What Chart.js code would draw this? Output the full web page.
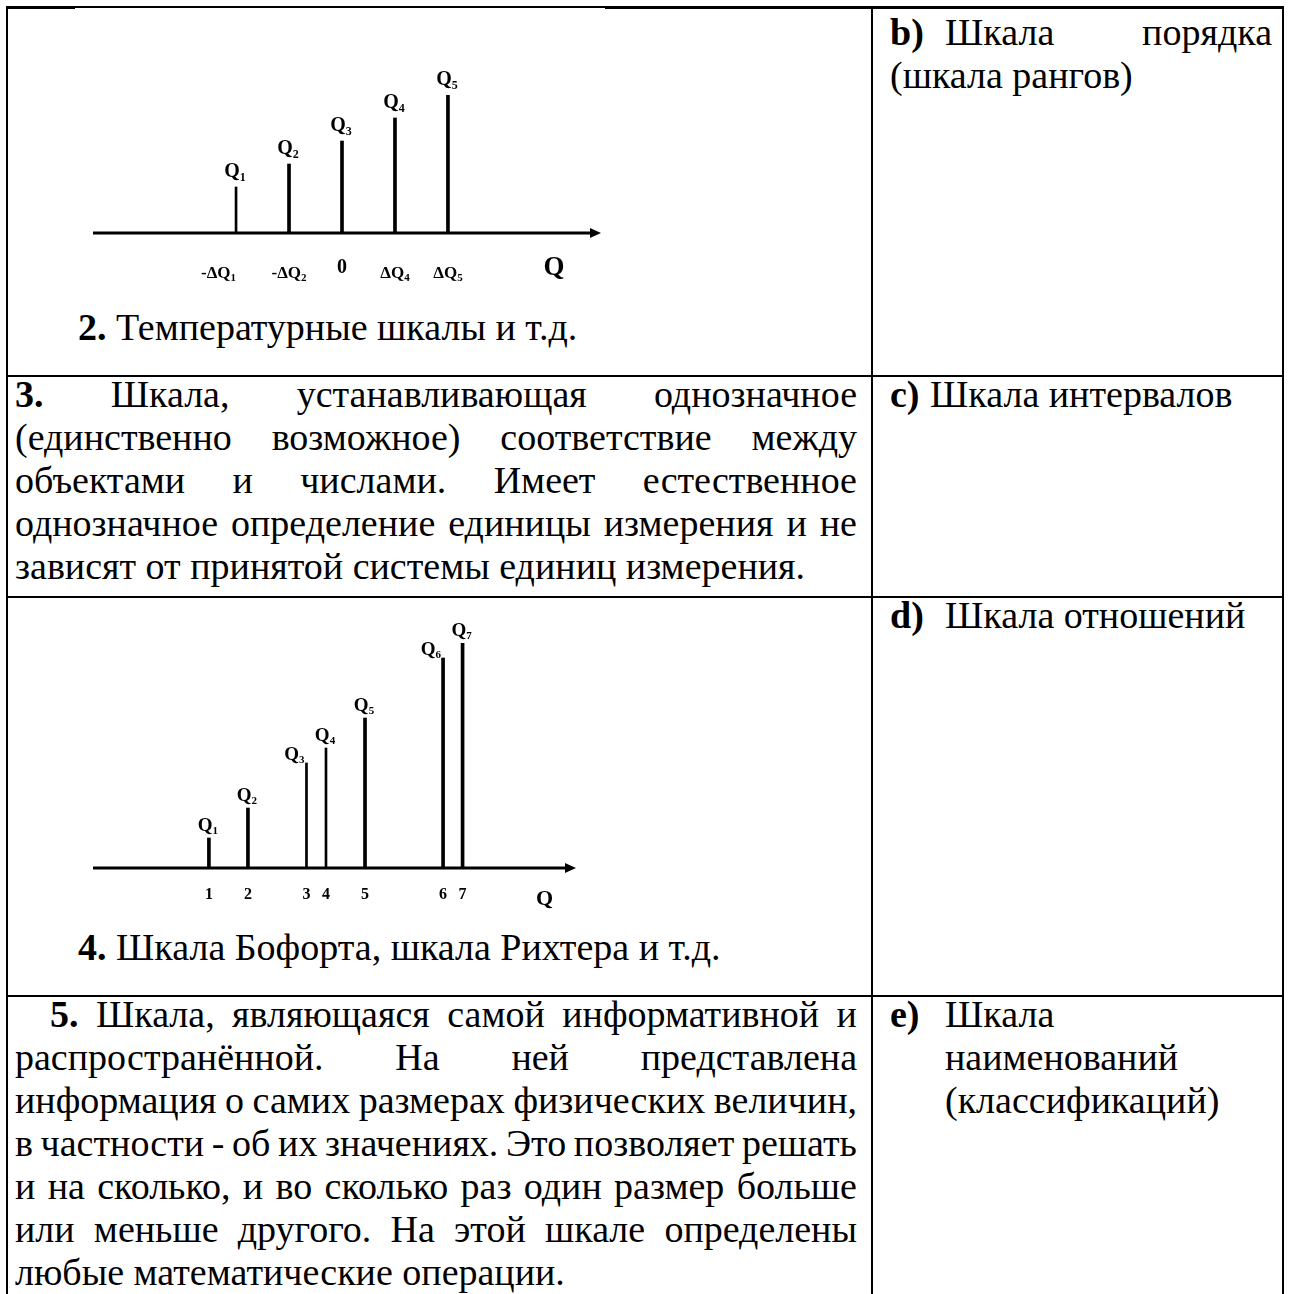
<!DOCTYPE html>
<html lang="ru">
<head>
<meta charset="UTF-8">
<title>Шкалы измерений</title>
<script src="https://cdn.jsdelivr.net/npm/chart.js@4.4.1/dist/chart.umd.min.js"></script>
<style>
    html, body { margin: 0; padding: 0; background: #fff; }
    body {
        width: 1291px; height: 1294px; position: relative; overflow: hidden;
        font-family: "Times New Roman", "Liberation Serif", serif;
        font-size: 38px; color: #000;
    }
    .rule { position: absolute; background: #000; }
    .ln { position: absolute; white-space: pre; line-height: 43px; }
    .j { display: flex; justify-content: space-between; white-space: nowrap; }
    canvas { position: absolute; }
</style>
</head>
<body>

<!-- рамка таблицы -->
<div class="rule" style="left:6px; top:6px; width:1278px; height:2px;"></div>
<div class="rule" style="left:6px; top:6px; width:69px; height:3px;"></div>
<div class="rule" style="left:605px; top:6px; width:679px; height:3px;"></div>
<div class="rule" style="left:6px; top:6px; width:2px; height:1288px;"></div>
<div class="rule" style="left:871px; top:6px; width:2px; height:1288px;"></div>
<div class="rule" style="left:1282px; top:6px; width:2px; height:1288px;"></div>
<div class="rule" style="left:6px; top:375px; width:1278px; height:2px;"></div>
<div class="rule" style="left:6px; top:596px; width:1278px; height:2px;"></div>
<div class="rule" style="left:6px; top:995px; width:1278px; height:2px;"></div>

<!-- строка 1 -->
<canvas id="chart1" width="540" height="240" style="left:80px; top:60px;"></canvas>
<div class="ln" style="left:78px; top:306px;"><b>2.</b> Температурные шкалы и т.д.</div>
<div class="ln" style="left:890px; top:11px;"><b>b)</b></div>
<div class="ln" style="left:945px; top:11px;">Шкала</div>
<div class="ln" style="left:1100px; top:11px; width:172px; text-align:right;">порядка</div>
<div class="ln" style="left:890px; top:54px;">(шкала рангов)</div>

<!-- строка 2 -->
<div class="ln j" style="left:15px; top:373px; width:842px;"><b>3.</b> Шкала, устанавливающая однозначное</div>
<div class="ln j" style="left:15px; top:416px; width:842px;">(единственно возможное) соответствие между</div>
<div class="ln j" style="left:15px; top:459px; width:842px;">объектами и числами. Имеет естественное</div>
<div class="ln j" style="left:15px; top:502px; width:842px;">однозначное определение единицы измерения и не</div>
<div class="ln" style="left:15px; top:545px;">зависят от принятой системы единиц измерения.</div>
<div class="ln" style="left:890px; top:373px;"><b>c)</b></div>
<div class="ln" style="left:930px; top:373px;">Шкала интервалов</div>

<!-- строка 3 -->
<canvas id="chart2" width="540" height="320" style="left:80px; top:600px;"></canvas>
<div class="ln" style="left:78px; top:926px;"><b>4.</b> Шкала Бофорта, шкала Рихтера и т.д.</div>
<div class="ln" style="left:890px; top:594px;"><b>d)</b></div>
<div class="ln" style="left:945px; top:594px;">Шкала отношений</div>

<!-- строка 4 -->
<div class="ln j" style="left:50px; top:993px; width:807px;"><b>5.</b> Шкала, являющаяся самой информативной и</div>
<div class="ln j" style="left:15px; top:1036px; width:842px;">распространённой. На ней представлена</div>
<div class="ln j" style="left:15px; top:1079px; width:842px;">информация о самих размерах физических величин,</div>
<div class="ln j" style="left:15px; top:1122px; width:842px;">в частности - об их значениях. Это позволяет решать</div>
<div class="ln j" style="left:15px; top:1165px; width:842px;">и на сколько, и во сколько раз один размер больше</div>
<div class="ln j" style="left:15px; top:1208px; width:842px;">или меньше другого. На этой шкале определены</div>
<div class="ln" style="left:15px; top:1251px;">любые математические операции.</div>
<div class="ln" style="left:890px; top:993px;"><b>e)</b></div>
<div class="ln" style="left:945px; top:993px;">Шкала</div>
<div class="ln" style="left:945px; top:1036px;">наименований</div>
<div class="ln" style="left:945px; top:1079px;">(классификаций)</div>

<script>
    // выравнивание по ширине: каждое слово в отдельный span
    document.querySelectorAll('.j').forEach(function(el) {
        var words = el.innerHTML.trim().split(/\s+/);
        el.innerHTML = words.map(function(w) { return '<span>' + w + '</span>'; }).join('');
    });

    // шкала интервалов: положение и размер
    var pos1 = [-2, -1, 0, 1, 2];
    var val1 = [2, 3, 4, 5, 6];
    var names1 = ['Q1', 'Q2', 'Q3', 'Q4', 'Q5'];
    var ticks1 = ['-ΔQ1', '-ΔQ2', '0', 'ΔQ4', 'ΔQ5'];

    // шкала отношений
    var pos2 = [1, 2, 3.5, 4, 5, 7, 7.5];
    var val2 = [1, 2, 3.5, 4, 5, 7, 7.5];
    var names2 = ['Q1', 'Q2', 'Q3', 'Q4', 'Q5', 'Q6', 'Q7'];
    var ticks2 = ['1', '2', '3', '4', '5', '6', '7'];

    var axisName = 'Q';
    var FONT = '"Times New Roman", "Liberation Serif", serif';

    // оформление (не данные)
    var look1 = {
        xMin: -4.7, xMax: 4.7, yMax: 6, titleAt: 4,
        pad: { left: 13, right: 29, top: 35, bottom: 67 },
        thin: [0], thinW: 2, thickW: 3, lineW: 3,
        nameSize: 20, nameSub: 12, nameGap: 10, nameRight: [], nameRightGap: 3,
        tickSize: 17, tickSub: 11, tickGap: 45, tickRight: [0],
        zeroSize: 20, zeroGap: 40,
        titleSize: 27, titleGap: 42
    };
    var look2 = {
        xMin: -1.97, xMax: 10.15, yMax: 7.5, titleAt: 9.6,
        pad: { left: 13, right: 54, top: 43, bottom: 52 },
        thin: [2, 3], thinW: 2, thickW: 3, lineW: 3,
        nameSize: 19, nameSub: 11, nameGap: 7, nameRight: [2, 5], nameRightGap: 3,
        tickSize: 16, tickSub: 10, tickGap: 31, tickRight: [],
        zeroSize: 16, zeroGap: 31,
        titleSize: 22, titleGap: 37
    };

    // подпись с нижним индексом: Q1 -> Q + маленькая 1
    function drawSub(ctx, text, x, y, size, subSize, align) {
        var m = text.match(/^(.*Q)(\d+)$/);
        var main = m ? m[1] : text;
        var sub = m ? m[2] : '';
        ctx.font = 'bold ' + size + 'px ' + FONT;
        var w1 = ctx.measureText(main).width;
        ctx.font = 'bold ' + subSize + 'px ' + FONT;
        var w2 = sub ? ctx.measureText(sub).width : 0;
        var left = x - (w1 + w2) / 2;
        if (align === 'right') left = x - (w1 + w2);
        ctx.textAlign = 'left';
        ctx.textBaseline = 'alphabetic';
        ctx.fillStyle = '#000';
        ctx.font = 'bold ' + size + 'px ' + FONT;
        ctx.fillText(main, left, y);
        if (sub) {
            ctx.font = 'bold ' + subSize + 'px ' + FONT;
            ctx.fillText(sub, left + w1, y + subSize * 0.3);
        }
    }

    var stemPlugin = {
        id: 'stemLabels',
        afterDatasetsDraw: function(chart) {
            var ctx = chart.ctx;
            var o = chart.options.plugins.stemLabels;
            var look = o.look;
            var xs = chart.scales.x, ys = chart.scales.y;
            var y0 = ys.getPixelForValue(0);
            var left = chart.chartArea.left, right = chart.chartArea.right;

            ctx.save();
            // ось со стрелкой
            ctx.strokeStyle = '#000';
            ctx.lineWidth = look.lineW;
            ctx.beginPath();
            ctx.moveTo(left, y0);
            ctx.lineTo(right, y0);
            ctx.stroke();
            ctx.fillStyle = '#000';
            ctx.beginPath();
            ctx.moveTo(right + 10, y0);
            ctx.lineTo(right - 1, y0 - 5);
            ctx.lineTo(right - 1, y0 + 5);
            ctx.closePath();
            ctx.fill();

            // подписи над стержнями
            o.pos.forEach(function(p, i) {
                var px = xs.getPixelForValue(p);
                var top = ys.getPixelForValue(o.val[i]);
                if (look.nameRight.indexOf(i) >= 0) {
                    drawSub(ctx, o.names[i], px - 2, top - look.nameRightGap, look.nameSize, look.nameSub, 'right');
                } else {
                    drawSub(ctx, o.names[i], px - 1, top - look.nameGap, look.nameSize, look.nameSub, 'center');
                }
            });

            // подписи под осью
            o.pos.forEach(function(p, i) {
                var px = xs.getPixelForValue(p);
                var t = o.ticks[i];
                if (t === '0') {
                    drawSub(ctx, t, px, y0 + look.zeroGap, look.zeroSize, look.tickSub, 'center');
                } else if (look.tickRight.indexOf(i) >= 0) {
                    drawSub(ctx, t, px, y0 + look.tickGap, look.tickSize, look.tickSub, 'right');
                } else {
                    drawSub(ctx, t, px, y0 + look.tickGap, look.tickSize, look.tickSub, 'center');
                }
            });

            drawSub(ctx, axisName, xs.getPixelForValue(look.titleAt), y0 + look.titleGap, look.titleSize, look.tickSub, 'center');
            ctx.restore();
        }
    };

    function stemSets(pos, val, look) {
        var thick = [], thin = [];
        pos.forEach(function(x, i) {
            var pt = { x: x, y: val[i] };
            if (look.thin.indexOf(i) >= 0) thin.push(pt); else thick.push(pt);
        });
        return [
            { data: thick, backgroundColor: '#000', barThickness: look.thickW, grouped: false },
            { data: thin, backgroundColor: '#000', barThickness: look.thinW, grouped: false }
        ];
    }

    function createStemChart(canvasId, pos, val, names, ticks, look) {
        var ctx = document.getElementById(canvasId).getContext('2d');
        return new Chart(ctx, {
            type: 'bar',
            data: { datasets: stemSets(pos, val, look) },
            options: {
                responsive: false,
                animation: false,
                devicePixelRatio: 1,
                layout: { padding: look.pad },
                scales: {
                    x: { type: 'linear', min: look.xMin, max: look.xMax, display: false, offset: false },
                    y: { min: 0, max: look.yMax, display: false }
                },
                plugins: {
                    legend: { display: false },
                    tooltip: { enabled: false },
                    stemLabels: { pos: pos, val: val, names: names, ticks: ticks, look: look }
                }
            },
            plugins: [stemPlugin]
        });
    }

    createStemChart('chart1', pos1, val1, names1, ticks1, look1);
    createStemChart('chart2', pos2, val2, names2, ticks2, look2);
</script>
</body>
</html>
